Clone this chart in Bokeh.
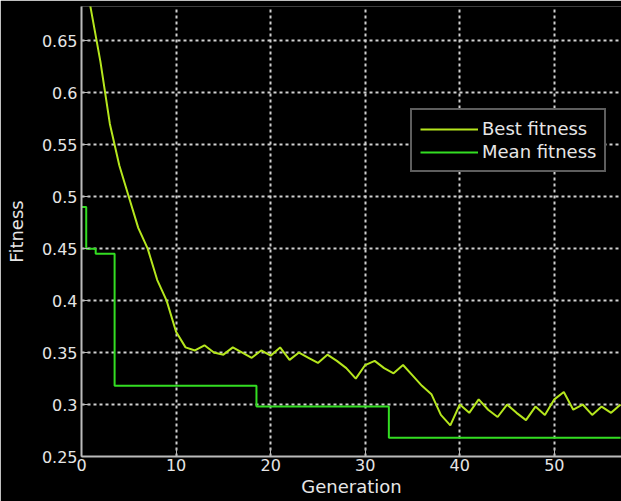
from bokeh.plotting import figure
from bokeh.models import Range1d, FixedTicker, Legend, LegendItem
from bokeh.embed import file_html
from bokeh.resources import INLINE

generations = list(range(58))
best_fitness = [0.73, 0.68, 0.63, 0.57, 0.53, 0.50, 0.47, 0.45, 0.42, 0.40,
                0.37, 0.355, 0.352, 0.357, 0.350, 0.348, 0.355, 0.350, 0.345, 0.352,
                0.347, 0.355, 0.343, 0.350, 0.345, 0.340, 0.348, 0.342, 0.335, 0.325,
                0.338, 0.342, 0.335, 0.330, 0.338, 0.328, 0.318, 0.310, 0.290, 0.280,
                0.300, 0.292, 0.305, 0.295, 0.288, 0.300, 0.292, 0.285, 0.298, 0.290,
                0.305, 0.312, 0.295, 0.300, 0.290, 0.298, 0.292, 0.300]
mean_fitness = [0.49, 0.45, 0.445, 0.445] + [0.318] * 15 + [0.298] * 14 + [0.268] * 25

x_ticks = [0, 10, 20, 30, 40, 50]
y_ticks = [0.25, 0.3, 0.35, 0.4, 0.45, 0.5, 0.55, 0.6, 0.65]
y_tick_labels = ["0.25", "0.3", "0.35", "0.4", "0.45", "0.5", "0.55", "0.6", "0.65"]

W, H = 621, 501
p = figure(width=W, height=H, output_backend="svg", toolbar_location=None,
           x_range=Range1d(0, 57.1), y_range=Range1d(0.25, 0.683),
           min_border_left=81, min_border_right=0, min_border_top=6, min_border_bottom=45,
           background_fill_color="black", border_fill_color="black")
p.outline_line_color = None

mean_r = p.step(generations, mean_fitness, mode="center", line_color="#33dd22", line_width=2)
best_r = p.line(generations, best_fitness, line_color="#b5e61d", line_width=2)

font = "DejaVu Sans"
txt = "#e6e6e6"
for ax in (p.xaxis[0], p.yaxis[0]):
    ax.axis_line_color = "#bbbbbb"
    ax.axis_line_width = 2
    ax.major_tick_line_color = "#bbbbbb"
    ax.major_tick_in = 8
    ax.major_tick_out = 0
    ax.minor_tick_line_color = None
    ax.major_label_text_color = txt
    ax.major_label_text_font = font
    ax.major_label_text_font_size = "16px"
    ax.axis_label_text_color = txt
    ax.axis_label_text_font = font
    ax.axis_label_text_font_size = "18px"
    ax.axis_label_text_font_style = "normal"

p.xaxis.ticker = FixedTicker(ticks=x_ticks)
p.yaxis.ticker = FixedTicker(ticks=y_ticks)
p.yaxis.major_label_overrides = {t: l for t, l in zip(y_ticks, y_tick_labels)}
p.xaxis.axis_label = "Generation"
p.yaxis.axis_label = "Fitness"
p.xaxis.major_label_standoff = 2
p.xaxis.axis_label_standoff = 2
p.yaxis.major_label_standoff = 4
p.yaxis.axis_label_standoff = 12

for g in (p.xgrid[0], p.ygrid[0]):
    g.grid_line_color = "#d0d0d0"
    g.grid_line_dash = "3 3"
    g.grid_line_width = 2

legend = Legend(items=[LegendItem(label="Best fitness", renderers=[best_r]),
                       LegendItem(label="Mean fitness", renderers=[mean_r])],
                location=(329, 284), background_fill_color="black", background_fill_alpha=1,
                border_line_color="#bbbbbb", border_line_width=2,
                label_text_color=txt, label_text_font=font, label_text_font_size="18px",
                glyph_width=58, label_standoff=4, padding=8, spacing=2, margin=0)
p.add_layout(legend, "center")

open("out.html", "w").write(file_html(p, INLINE))
